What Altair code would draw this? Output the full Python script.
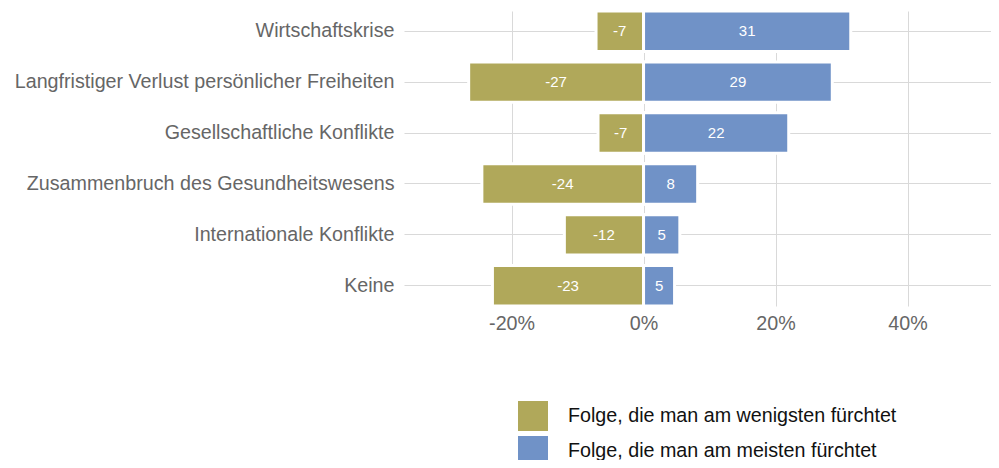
import altair as alt
import pandas as pd

categories = [
    "Wirtschaftskrise",
    "Langfristiger Verlust persönlicher Freiheiten",
    "Gesellschaftliche Konflikte",
    "Zusammenbruch des Gesundheitswesens",
    "Internationale Konflikte",
    "Keine",
]
series_names = [
    "Folge, die man am wenigsten fürchtet",
    "Folge, die man am meisten fürchtet",
]
least_values = [-7.2, -26.5, -6.9, -24.5, -12.0, -22.9]
most_values = [31.4, 28.6, 22.0, 8.2, 5.5, 4.7]
least_labels = ["-7", "-27", "-7", "-24", "-12", "-23"]
most_labels = ["31", "29", "22", "8", "5", "5"]
x_ticks = [-20, 0, 20, 40]
colors = ["#B0A85A", "#7092C7"]

rows = []
for c, v, l in zip(categories, least_values, least_labels):
    rows.append({"cat": c, "series": series_names[0], "value": v, "label": l})
for c, v, l in zip(categories, most_values, most_labels):
    rows.append({"cat": c, "series": series_names[1], "value": v, "label": l})
df = pd.DataFrame(rows)
df["mid"] = df["value"] / 2

FONT = "Liberation Sans"

x_scale = alt.Scale(domain=[-36.3, 52.65], nice=False, zero=False)
y_scale = alt.Scale(domain=categories, paddingInner=0.206, paddingOuter=0)

base = alt.Chart(df)

bars = base.mark_bar(stroke="white", strokeWidth=3).encode(
    x=alt.X(
        "value:Q",
        scale=x_scale,
        axis=alt.Axis(
            values=x_ticks,
            labelExpr="datum.value + '%'",
            title=None,
            domain=False,
            ticks=False,
            grid=True,
            gridColor="#D9D9D9",
            gridWidth=1,
            labelFont=FONT,
            labelFontSize=19.7,
            labelColor="#666666",
            labelPadding=7,
        ),
    ),
    y=alt.Y(
        "cat:N",
        scale=y_scale,
        sort=categories,
        axis=alt.Axis(
            title=None,
            domain=False,
            ticks=False,
            grid=True,
            gridColor="#D9D9D9",
            gridWidth=1,
            bandPosition=0.5,
            labelFont=FONT,
            labelFontSize=19.7,
            labelColor="#666666",
            labelPadding=10,
            labelLimit=500,
        ),
    ),
    color=alt.Color(
        "series:N",
        scale=alt.Scale(domain=series_names, range=colors),
        legend=alt.Legend(
            title=None,
            orient="none",
            legendX=114,
            legendY=390,
            padding=0,
            symbolType="square",
            symbolSize=900,
            symbolStrokeWidth=0,
            symbolOpacity=1,
            labelOffset=20,
            rowPadding=5,
            labelFont=FONT,
            labelFontSize=19.7,
            labelColor="#111111",
            labelLimit=600,
        ),
    ),
)

texts = base.mark_text(color="white", fontSize=15, font=FONT, align="center", baseline="middle").encode(
    x=alt.X("mid:Q", scale=x_scale),
    y=alt.Y("cat:N", scale=y_scale, sort=categories),
    text="label:N",
)

chart = (
    alt.layer(bars, texts)
    .properties(
        width=587,
        height=295,
        autosize=alt.AutoSizeParams(type="none"),
        padding={"left": 396, "top": 3, "right": 0, "bottom": 154},
        background="white",
    )
    .configure_view(stroke=None)
)

chart.save("out.html", embed_options={"renderer": "svg", "actions": False})
